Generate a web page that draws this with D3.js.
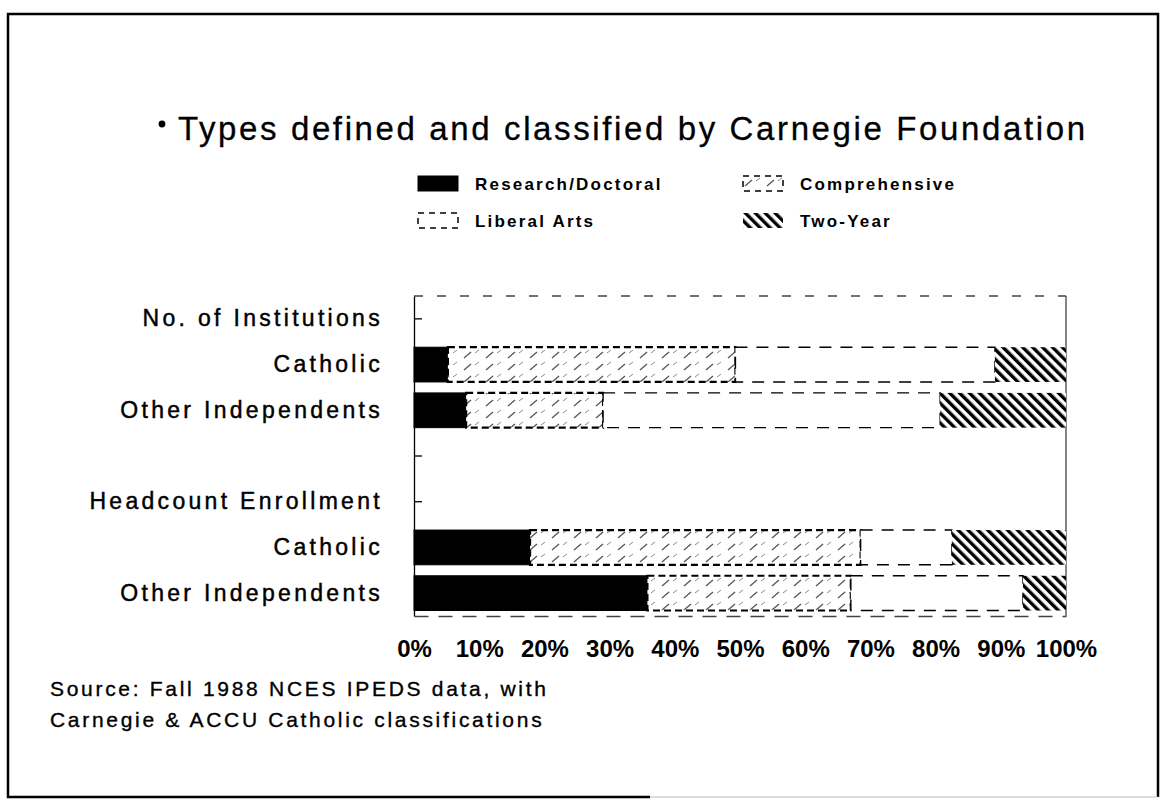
<!DOCTYPE html>
<html>
<head>
<meta charset="utf-8">
<script src="https://cdn.jsdelivr.net/npm/d3@7"></script>
<style>
  body { margin: 0; background: #fff; }
  svg { display: block; font-family: "Liberation Sans", Arial, Helvetica, sans-serif; }
</style>
</head>
<body>
<svg id="chart"></svg>
<script>
// DATOS
const rowKeys = ["instHead", "instCath", "instOther", "gap", "enrHead", "enrCath", "enrOther"];
const rowLabels = ["No. of Institutions", "Catholic", "Other Independents", "", "Headcount Enrollment", "Catholic", "Other Independents"];
const barRows = ["instCath", "instOther", "enrCath", "enrOther"];
const types = ["Research/Doctoral", "Comprehensive", "Liberal Arts", "Two-Year"];
const researchDoctoral = [5.2, 8.0, 17.8, 35.8];
const comprehensive = [44.1, 21.0, 50.7, 31.2];
const liberalArts = [39.8, 51.7, 14.0, 26.4];
const twoYear = [10.9, 19.3, 17.5, 6.6];
const tickValues = [0, 10, 20, 30, 40, 50, 60, 70, 80, 90, 100];

const width = 1166;
const height = 812;

const svg = d3.select("#chart")
  .attr("width", width)
  .attr("height", height);

// PATRONES
const defs = svg.append("defs");

const hatch = defs.append("pattern")
  .attr("id", "twoYear")
  .attr("patternUnits", "userSpaceOnUse")
  .attr("width", 7).attr("height", 7)
  .attr("patternTransform", "rotate(-45)");
hatch.append("rect").attr("width", 7).attr("height", 7).attr("fill", "#fff");
hatch.append("rect").attr("width", 3.4).attr("height", 7).attr("fill", "#000");

const comp = defs.append("pattern")
  .attr("id", "comprehensive")
  .attr("patternUnits", "userSpaceOnUse")
  .attr("width", 22).attr("height", 12);
comp.append("rect").attr("width", 22).attr("height", 12).attr("fill", "#fff");
comp.append("line") /* trazos diagonales sueltos */
  .attr("x1", 2).attr("y1", 10).attr("x2", 9).attr("y2", 4)
  .attr("stroke", "#555").attr("stroke-width", 1.3);
comp.append("line")
  .attr("x1", 13).attr("y1", 5).attr("x2", 17).attr("y2", 2)
  .attr("stroke", "#888").attr("stroke-width", 1);

const fills = {
  "Research/Doctoral": "#000",
  "Comprehensive": "url(#comprehensive)",
  "Liberal Arts": "#fff",
  "Two-Year": "url(#twoYear)"
};
const dashes = {
  "Research/Doctoral": null,
  "Comprehensive": "7,4",
  "Liberal Arts": "12,9",
  "Two-Year": null
};
const strokeW = {
  "Research/Doctoral": 1,
  "Comprehensive": 2.2,
  "Liberal Arts": 1.4,
  "Two-Year": 0
};

// MARCO (la linea de abajo solo llega hasta la mitad)
svg.append("path")
  .attr("d", "M650,797 L8,797 L8,14 L1158,14 L1158,797")
  .attr("fill", "none")
  .attr("stroke", "#000")
  .attr("stroke-width", 2.5);
svg.append("line")
  .attr("x1", 650).attr("x2", 1158)
  .attr("y1", 797).attr("y2", 797)
  .attr("stroke", "#bbb")
  .attr("stroke-width", 1);

// TITULO
svg.append("circle") /* viñeta */
  .attr("cx", 162).attr("cy", 124)
  .attr("r", 3.4)
  .attr("fill", "#000");
svg.append("text")
  .attr("x", 178).attr("y", 140)
  .attr("font-size", 33)
  .attr("textLength", 907)
  .attr("lengthAdjust", "spacing")
  .attr("stroke", "#000")
  .attr("stroke-width", 0.3)
  .text("Types defined and classified by Carnegie Foundation");

// LEYENDA
const legendPos = [[418, 176], [743, 176], [418, 213], [743, 213]];
const legendOrder = ["Research/Doctoral", "Comprehensive", "Liberal Arts", "Two-Year"];
const legend = svg.selectAll(".legend")
  .data(legendOrder)
  .enter()
  .append("g")
  .attr("class", "legend")
  .attr("transform", (d, i) => `translate(${legendPos[i][0]}, ${legendPos[i][1]})`);

legend.append("rect")
  .attr("width", 40).attr("height", 15)
  .attr("fill", d => fills[d])
  .attr("stroke", d => d === "Two-Year" ? "none" : "#000")
  .attr("stroke-width", d => d === "Research/Doctoral" ? 1 : 1.5)
  .attr("stroke-dasharray", d => d === "Research/Doctoral" ? null : "6,5");

legend.append("text")
  .attr("x", 57).attr("y", 14)
  .attr("font-size", 17)
  .attr("font-weight", "bold")
  .attr("letter-spacing", 2.2)
  .text(d => d);

// ESCALAS
const x = d3.scaleLinear()
  .domain([0, 100])
  .range([414, 1066]);

const y = d3.scaleBand()
  .domain(rowKeys)
  .range([296, 616])
  .paddingInner(0.24)
  .paddingOuter(0.12);

// MARCO DEL GRAFICO
svg.append("line") /* arriba, punteada */
  .attr("x1", x(0)).attr("x2", x(100))
  .attr("y1", 296).attr("y2", 296)
  .attr("stroke", "#444").attr("stroke-width", 1.3)
  .attr("stroke-dasharray", "9,14");
svg.append("line") /* derecha */
  .attr("x1", x(100)).attr("x2", x(100))
  .attr("y1", 296).attr("y2", 616)
  .attr("stroke", "#333").attr("stroke-width", 1.2);

// EJE Y
const yAxis = d3.axisLeft(y)
  .tickSizeInner(-8)
  .tickSizeOuter(0)
  .tickPadding(31)
  .tickFormat((d, i) => rowLabels[i]);

const gy = svg.append("g")
  .attr("transform", `translate(${x(0)}, 0)`)
  .call(yAxis);
gy.select(".domain").attr("stroke", "#000").attr("stroke-width", 1.3);
gy.selectAll(".tick line").attr("stroke", "#000").attr("stroke-width", 1.3);
gy.selectAll(".tick text")
  .attr("font-size", 23)
  .attr("fill", "#000")
  .attr("stroke", "#000")
  .attr("stroke-width", 0.45)
  .attr("letter-spacing", 3.3)
  .attr("font-family", "'Liberation Sans', Arial, sans-serif");

// BARRAS APILADAS
const table = barRows.map((r, i) => ({
  row: r,
  "Research/Doctoral": researchDoctoral[i],
  "Comprehensive": comprehensive[i],
  "Liberal Arts": liberalArts[i],
  "Two-Year": twoYear[i]
}));

const series = d3.stack().keys(types)(table);

const layers = svg.selectAll(".layer")
  .data(series)
  .enter()
  .append("g")
  .attr("class", "layer");

layers.selectAll("rect")
  .data(s => s.map(v => ({ key: s.key, v })))
  .enter()
  .append("rect")
  .attr("x", d => x(d.v[0]))
  .attr("y", d => y(d.v.data.row))
  .attr("width", d => x(d.v[1]) - x(d.v[0]))
  .attr("height", y.bandwidth())
  .attr("fill", d => fills[d.key])
  .attr("stroke", d => strokeW[d.key] ? "#000" : "none")
  .attr("stroke-width", d => strokeW[d.key])
  .attr("stroke-dasharray", d => dashes[d.key]);

// EJE X
const xAxis = d3.axisBottom(x)
  .tickValues(tickValues)
  .tickSize(0)
  .tickPadding(24)
  .tickFormat(d => d + "%");

const gx = svg.append("g")
  .attr("transform", "translate(0, 616)")
  .call(xAxis);
gx.select(".domain")
  .attr("stroke", "#444")
  .attr("stroke-width", 1.3)
  .attr("stroke-dasharray", "14,10");
gx.selectAll(".tick text")
  .attr("font-size", 24)
  .attr("font-weight", "bold")
  .attr("fill", "#000")
  .attr("font-family", "'Liberation Sans', Arial, sans-serif");

// FUENTE
const source = ["Source: Fall 1988 NCES IPEDS data, with", "Carnegie & ACCU Catholic classifications"];
svg.selectAll(".source")
  .data(source)
  .enter()
  .append("text")
  .attr("class", "source")
  .attr("x", 50)
  .attr("y", (d, i) => 696 + i * 31)
  .attr("font-size", 21)
  .attr("letter-spacing", 2.7)
  .attr("stroke", "#000")
  .attr("stroke-width", 0.35)
  .text(d => d);
</script>
</body>
</html>
